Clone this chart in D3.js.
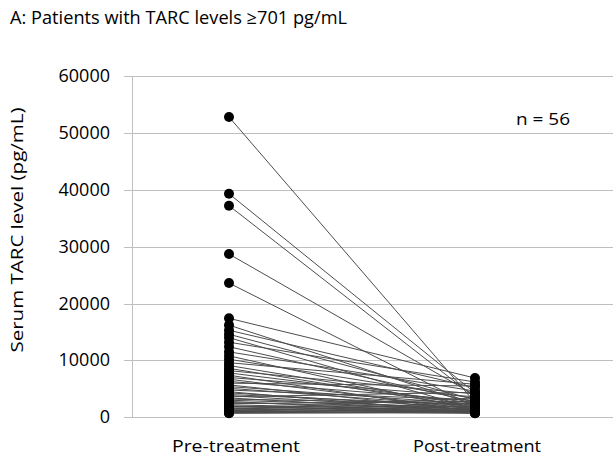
<!DOCTYPE html>
<html>
<head>
<meta charset="utf-8">
<script src="https://cdn.jsdelivr.net/npm/d3@7"></script>
<style>
  body { margin: 0; background: #fff; }
  text { font-family: "Open Sans", "Liberation Sans", sans-serif; fill: #000; }
</style>
</head>
<body>
<div id="chart"></div>
<script>
// categories and tick labels
const categories = ['Pre-treatment', 'Post-treatment'];
const yTicks = [0, 10000, 20000, 30000, 40000, 50000, 60000];

// serum TARC (pg/mL) per patient
const preValues = [52800, 39300, 37200, 28700, 23600, 17400, 16200, 15300, 14600, 14000,
  13200, 12400, 11500, 10800, 10200, 9600, 9100, 8600, 8200, 7800,
  7400, 7000, 6700, 6300, 6000, 5700, 5400, 5100, 4800, 4500,
  4300, 4000, 3800, 3600, 3400, 3200, 3000, 2800, 2600, 2400,
  2200, 2000, 1900, 1800, 1600, 1500, 1400, 1300, 1200, 1100,
  1000, 950, 880, 820, 760, 710];
const postValues = [2600, 4300, 3500, 3900, 1800, 6900, 2200, 5200, 3100, 1500,
  6200, 2700, 4600, 1200, 3300, 5800, 2000, 1700, 4100, 2500,
  900, 3600, 1400, 2900, 5500, 1100, 2300, 1900, 3000, 800,
  1600, 2100, 1300, 4400, 1000, 2400, 1700, 700, 1500, 2800,
  1200, 900, 2000, 1400, 1100, 800, 3400, 1900, 1000, 700,
  1300, 2600, 900, 1600, 1100, 800];

const width = 615, height = 457;
const svg = d3.select('#chart').append('svg')
    .attr('width', width)
    .attr('height', height);

const x = d3.scalePoint().domain(categories).range([229, 475]);
const y = d3.scaleLinear().domain([0, 60000]).range([417.3, 76]);

// gridlines
svg.append('g')
    .selectAll('line')
    .data(yTicks)
    .join('line')
    .attr('x1', 124).attr('x2', 613)
    .attr('y1', d => Math.round(y(d)) + 0.5)
    .attr('y2', d => Math.round(y(d)) + 0.5)
    .attr('stroke', '#bfbfbf')
    .attr('stroke-width', 1);

// y axis line
svg.append('line')
    .attr('x1', 132.5).attr('x2', 132.5)
    .attr('y1', y(60000)).attr('y2', y(0))
    .attr('stroke', '#bfbfbf');

// tick labels
svg.append('g')
    .selectAll('text')
    .data(yTicks)
    .join('text')
    .attr('x', 110)
    .attr('y', d => y(d) + 6)
    .attr('text-anchor', 'end')
    .attr('font-size', 18)
    .text(d => d);

// patient lines
const pairs = preValues.map((v, i) => [v, postValues[i]]);
svg.append('g')
    .selectAll('line')
    .data(pairs)
    .join('line')
    .attr('x1', x(categories[0]))
    .attr('y1', d => y(d[0]))
    .attr('x2', x(categories[1]))
    .attr('y2', d => y(d[1]))
    .attr('stroke', '#4d4d4d')
    .attr('stroke-width', 1);

// dots
svg.append('g')
    .selectAll('circle')
    .data(preValues)
    .join('circle')
    .attr('cx', x(categories[0]))
    .attr('cy', d => y(d))
    .attr('r', 5)
    .attr('fill', '#000');

svg.append('g')
    .selectAll('circle')
    .data(postValues)
    .join('circle')
    .attr('cx', x(categories[1]))
    .attr('cy', d => y(d))
    .attr('r', 5)
    .attr('fill', '#000');

// category labels
svg.append('g')
    .selectAll('text')
    .data(categories)
    .join('text')
    .attr('x', (d, i) => x(d) + (i === 0 ? 7 : 2))
    .attr('y', 452)
    .attr('text-anchor', 'middle')
    .attr('font-size', 17)
    .attr('textLength', 128)
    .attr('lengthAdjust', 'spacingAndGlyphs')
    .text(d => d);

// y axis title
svg.append('text')
    .attr('transform', 'translate(23,230) rotate(-90)')
    .attr('text-anchor', 'middle')
    .attr('font-size', 17)
    .attr('textLength', 245)
    .attr('lengthAdjust', 'spacingAndGlyphs')
    .text('Serum TARC level (pg/mL)');

// n label
svg.append('text')
    .attr('x', 516)
    .attr('y', 125)
    .attr('font-size', 17)
    .attr('textLength', 54)
    .attr('lengthAdjust', 'spacingAndGlyphs')
    .text('n = 56');

// chart title
svg.append('text')
    .attr('x', 10)
    .attr('y', 24)
    .attr('font-size', 18)
    .attr('textLength', 337)
    .attr('lengthAdjust', 'spacingAndGlyphs')
    .text('A: Patients with TARC levels \u2265701 pg/mL');
</script>
</body>
</html>
